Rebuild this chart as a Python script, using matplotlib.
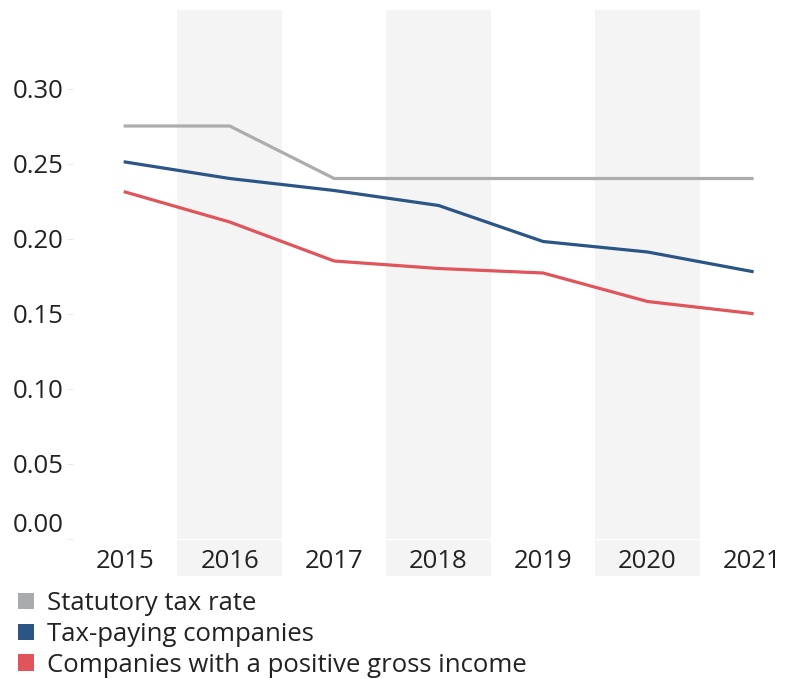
import matplotlib.pyplot as plt
from matplotlib.patches import Patch

plt.rcParams['font.family'] = ['Open Sans', 'DejaVu Sans']

years = ['2015', '2016', '2017', '2018', '2019', '2020', '2021']
statutory = [0.275, 0.275, 0.24, 0.24, 0.24, 0.24, 0.24]
tax_paying = [0.251, 0.240, 0.232, 0.222, 0.198, 0.191, 0.178]
positive_income = [0.231, 0.211, 0.185, 0.180, 0.177, 0.158, 0.150]

yticks = [0.0, 0.05, 0.10, 0.15, 0.20, 0.25, 0.30]

c_gray = '#acacac'
c_blue = '#2b5585'
c_red = '#e0545b'
c_text = '#222222'

W, H = 793, 679
fig = plt.figure(figsize=(W / 100, H / 100), dpi=100)
# axes spans the band area, including the year label strip
ax = fig.add_axes([73 / W, 1 - 576 / H, (W - 73) / W, (576 - 10) / H])

x = list(range(len(years)))
px_per_unit = 1500
ax.set_ylim(-(576 - 538.5) / px_per_unit, (538.5 - 10) / px_per_unit)
ax.set_xlim(-0.5, 6 + (W - 752) / 104.5)

# alternating column shading
for i in x:
    if i % 2 == 1:
        ax.axvspan(i - 0.5, i + 0.5, color='#f4f4f4', lw=0, zorder=0)
ax.axhline(0, color='white', lw=1, zorder=1)

ax.plot(x, statutory, color=c_gray, lw=2.3, zorder=3)
ax.plot(x, tax_paying, color=c_blue, lw=2.3, zorder=3)
ax.plot(x, positive_income, color=c_red, lw=2.3, zorder=3)

for s in ax.spines.values():
    s.set_visible(False)

ax.set_xticks(x)
ax.set_xticklabels(years)
ax.tick_params(axis='x', length=0, pad=-19.5, labelsize=18.5, labelcolor=c_text)

ax.set_yticks(yticks)
ax.set_yticklabels([f'{v:.2f}' for v in yticks])
ax.tick_params(axis='y', length=4, width=0.6, color='#e6e6e6', pad=3,
               labelsize=18.5, labelcolor=c_text)
ax.get_yticklabels()[0].set_va('bottom')

handles = [Patch(facecolor='#a9abad', label='Statutory tax rate'),
           Patch(facecolor=c_blue, label='Tax-paying companies'),
           Patch(facecolor=c_red, label='Companies with a positive gross income')]
leg = fig.legend(handles=handles, loc='upper left', bbox_to_anchor=(8 / W, 1 - 581 / H),
                 frameon=False, fontsize=18.5, handlelength=0.6, handleheight=0.6,
                 handletextpad=0.5, labelspacing=0.22, borderaxespad=0)
for t in leg.get_texts():
    t.set_color(c_text)

fig.savefig('out.png', dpi=100)
